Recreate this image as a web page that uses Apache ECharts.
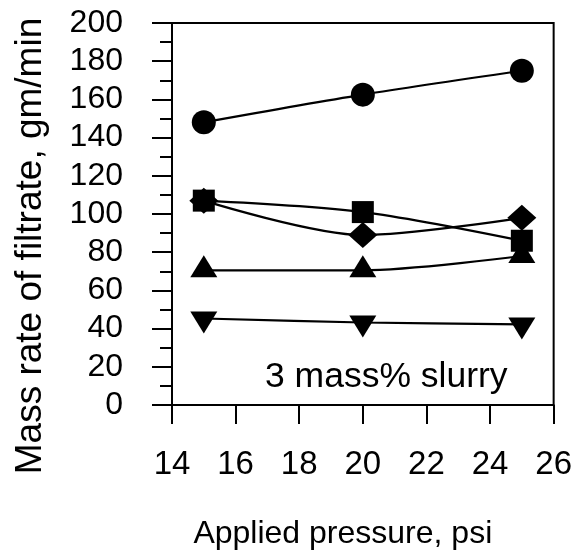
<!DOCTYPE html>
<html>
<head>
<meta charset="utf-8">
<script src="https://cdn.jsdelivr.net/npm/echarts@6/dist/echarts.min.js"></script>
<style>html,body{margin:0;padding:0;background:#fff}#c{width:575px;height:555px}</style>
</head>
<body>
<div id="c"></div>
<script>
const pressures = [15, 20, 25];
const circleVals = [148, 162.5, 175];
const squareVals = [107, 101, 86];
const diamondVals = [107, 89, 98];
const triUpVals = [70.5, 70.5, 78];
const triDownVals = [45.3, 43.2, 42.2];
const xTicks = [14, 16, 18, 20, 22, 24, 26];
const yTicks = [0, 20, 40, 60, 80, 100, 120, 140, 160, 180, 200];

const REG = '"Liberation Sans", Arial, Helvetica, sans-serif';

function pts(vals) { return pressures.map((p, i) => [p, vals[i]]); }
function ser(vals, symbol, size, offset) {
  return {
    type: 'line', data: pts(vals), smooth: 0.3,
    symbol: symbol, symbolSize: size, symbolOffset: offset || [0, 0],
    showAllSymbol: true,
    lineStyle: { color: '#000', width: 2.2 },
    itemStyle: { color: '#000', borderColor: '#000', borderWidth: 0 },
    z: 3
  };
}

const chart = echarts.init(document.getElementById('c'), null, { renderer: 'canvas' });
chart.setOption({
  animation: false,
  backgroundColor: '#fff',
  grid: { left: 172, right: 20, top: 23, bottom: 148, show: true, borderColor: '#000', borderWidth: 2, backgroundColor: 'transparent' },
  xAxis: {
    type: 'value', min: xTicks[0], max: xTicks[xTicks.length - 1], interval: xTicks[1] - xTicks[0],
    axisLine: { show: true, lineStyle: { color: '#000', width: 2 } },
    axisTick: { show: true, inside: false, length: 19, lineStyle: { color: '#000', width: 2 } },
    axisLabel: { margin: 43, fontSize: 33, color: '#000', fontFamily: REG },
    splitLine: { show: false },
    name: 'Applied pressure, psi', nameLocation: 'middle', nameGap: 113,
    nameTextStyle: { fontSize: 32, color: '#000', fontFamily: REG, padding: [0, 40, 0, 0] }
  },
  yAxis: {
    type: 'value', min: yTicks[0], max: yTicks[yTicks.length - 1], interval: yTicks[1] - yTicks[0],
    axisLine: { show: true, lineStyle: { color: '#000', width: 2 } },
    axisTick: { show: true, inside: false, length: 20, lineStyle: { color: '#000', width: 2 } },
    minorTick: { show: true, splitNumber: 2, length: 12, lineStyle: { color: '#000', width: 2 } },
    axisLabel: { margin: 49, fontSize: 32, color: '#000', fontFamily: REG },
    splitLine: { show: false },
    name: 'Mass rate of filtrate, gm/min', nameLocation: 'middle', nameGap: 123, nameRotate: 90,
    nameTextStyle: { fontSize: 37, color: '#000', fontFamily: REG, padding: [0, 64, 0, 0] }
  },
  graphic: [{
    type: 'text', left: 265, top: 359,
    style: { text: '3 mass% slurry', fontSize: 35.5, fill: '#000', fontFamily: REG }
  }],
  series: [
    ser(circleVals, 'circle', 24),
    ser(squareVals, 'rect', 22),
    ser(diamondVals, 'diamond', [29, 26]),
    ser(triUpVals, 'triangle', [27, 22], [0, -4]),
    Object.assign(ser(triDownVals, 'triangle', [27, 22], [0, 4]), { symbolRotate: 180 })
  ]
});
</script>
</body>
</html>
